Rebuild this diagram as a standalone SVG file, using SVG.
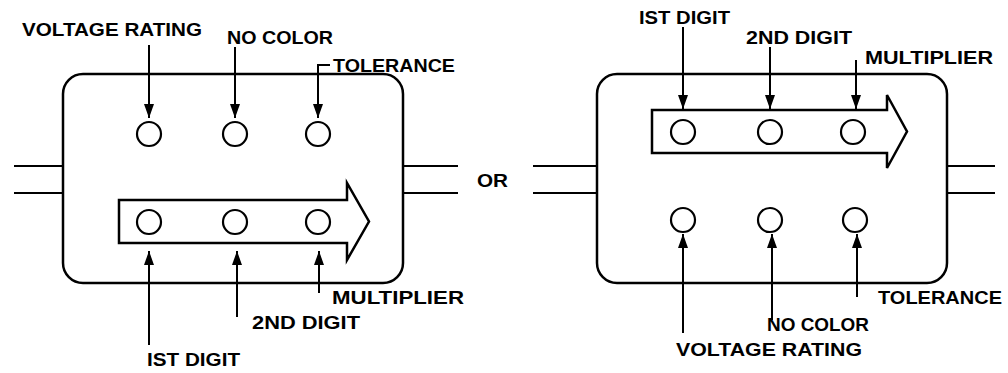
<svg xmlns="http://www.w3.org/2000/svg" width="1008" height="373" viewBox="0 0 1008 373">
<style>
.box{fill:none;stroke:#000;stroke-width:2.5}
.band{fill:#fff;stroke:#000;stroke-width:2.5;stroke-linejoin:miter}
.dot{fill:none;stroke:#000;stroke-width:2.2}
.lead{stroke:#000;stroke-width:2.2}
.ptr{fill:none;stroke:#000;stroke-width:2}
text{font-family:"Liberation Sans",Arial,sans-serif;font-weight:bold;font-size:19px;fill:#000}
</style>
<defs>
<marker id="ah" markerUnits="userSpaceOnUse" markerWidth="14" markerHeight="10" refX="14" refY="5" orient="auto">
<path d="M0,0 L14,5 L0,10 Z" fill="#000"/>
</marker>
</defs>
<rect width="1008" height="373" fill="#fff"/>

<g id="left-resistor">
<line class="lead" x1="14" y1="166" x2="63" y2="166"/>
<line class="lead" x1="14" y1="193" x2="63" y2="193"/>
<line class="lead" x1="403" y1="166" x2="458" y2="166"/>
<line class="lead" x1="403" y1="193" x2="458" y2="193"/>
<rect class="box" x="63" y="74" width="340" height="209" rx="20" ry="20"/>
<path class="band" d="M119,200 L347,200 L347,183 L369,221.5 L347,260 L347,243 L119,243 Z"/>
<circle class="dot" cx="149" cy="134" r="12"/>
<circle class="dot" cx="235" cy="134" r="12"/>
<circle class="dot" cx="318" cy="134" r="12"/>
<circle class="dot" cx="149" cy="222" r="12"/>
<circle class="dot" cx="235" cy="222" r="12"/>
<circle class="dot" cx="318" cy="222" r="12"/>
</g>

<g id="right-resistor">
<line class="lead" x1="533" y1="166" x2="597" y2="166"/>
<line class="lead" x1="533" y1="193" x2="597" y2="193"/>
<line class="lead" x1="947" y1="166" x2="995" y2="166"/>
<line class="lead" x1="947" y1="193" x2="995" y2="193"/>
<rect class="box" x="597" y="74" width="350" height="209" rx="20" ry="20"/>
<path class="band" d="M652,110 L887,110 L887,95 L907,131.5 L887,168 L887,153 L652,153 Z"/>
<circle class="dot" cx="683" cy="132" r="12"/>
<circle class="dot" cx="770" cy="132" r="12"/>
<circle class="dot" cx="853" cy="132" r="12"/>
<circle class="dot" cx="683" cy="220" r="12"/>
<circle class="dot" cx="770" cy="220" r="12"/>
<circle class="dot" cx="855" cy="220" r="12"/>
</g>

<g id="connectors">
<line class="ptr" x1="149" y1="45" x2="149" y2="118" marker-end="url(#ah)"/>
<line class="ptr" x1="235" y1="47" x2="235" y2="118" marker-end="url(#ah)"/>
<polyline class="ptr" points="330,65 318,65 318,118" marker-end="url(#ah)"/>
<line class="ptr" x1="149" y1="345" x2="149" y2="251" marker-end="url(#ah)"/>
<line class="ptr" x1="237" y1="317" x2="237" y2="251" marker-end="url(#ah)"/>
<line class="ptr" x1="319" y1="293" x2="319" y2="251" marker-end="url(#ah)"/>

<line class="ptr" x1="683" y1="27" x2="683" y2="109" marker-end="url(#ah)"/>
<line class="ptr" x1="770" y1="47" x2="770" y2="109" marker-end="url(#ah)"/>
<line class="ptr" x1="856" y1="60" x2="856" y2="109" marker-end="url(#ah)"/>
<line class="ptr" x1="683" y1="333" x2="683" y2="234" marker-end="url(#ah)"/>
<line class="ptr" x1="772" y1="320" x2="772" y2="234" marker-end="url(#ah)"/>
<line class="ptr" x1="857" y1="297" x2="857" y2="234" marker-end="url(#ah)"/>
</g>

<g id="labels">
<text x="22" y="36" textLength="180" lengthAdjust="spacingAndGlyphs">VOLTAGE RATING</text>
<text x="227" y="44" textLength="106" lengthAdjust="spacingAndGlyphs">NO COLOR</text>
<text x="333" y="72" textLength="122" lengthAdjust="spacingAndGlyphs">TOLERANCE</text>
<text x="332" y="304" textLength="132" lengthAdjust="spacingAndGlyphs">MULTIPLIER</text>
<text x="252" y="329" textLength="108" lengthAdjust="spacingAndGlyphs">2ND DIGIT</text>
<text x="147" y="366" textLength="93" lengthAdjust="spacingAndGlyphs">IST DIGIT</text>
<text x="477" y="187" textLength="31" lengthAdjust="spacingAndGlyphs">OR</text>
<text x="639" y="24" textLength="91" lengthAdjust="spacingAndGlyphs">IST DIGIT</text>
<text x="746" y="44" textLength="106" lengthAdjust="spacingAndGlyphs">2ND DIGIT</text>
<text x="865" y="64" textLength="128" lengthAdjust="spacingAndGlyphs">MULTIPLIER</text>
<text x="878" y="304" textLength="124" lengthAdjust="spacingAndGlyphs">TOLERANCE</text>
<text x="767" y="331" textLength="102" lengthAdjust="spacingAndGlyphs">NO COLOR</text>
<text x="676" y="356" textLength="186" lengthAdjust="spacingAndGlyphs">VOLTAGE RATING</text>
</g>
</svg>
